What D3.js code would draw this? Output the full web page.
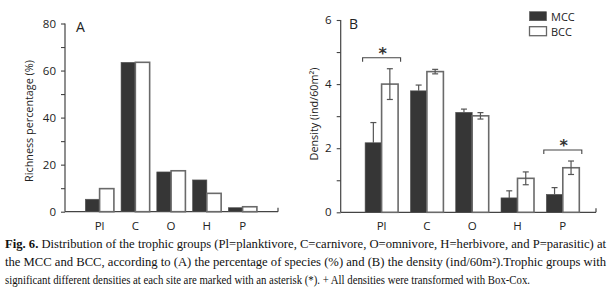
<!DOCTYPE html>
<html><head><meta charset="utf-8">
<script src="https://cdn.jsdelivr.net/npm/d3@7/dist/d3.min.js"></script>
<style>body{margin:0;background:#fff}svg{display:block}</style>
</head><body>
<svg id="c" width="614" height="289"></svg>
<script>
const categories = ["Pl","C","O","H","P"];
const seriesNames = ["MCC","BCC"];
const richnessMCC = [5.3, 63.5, 16.9, 13.5, 1.7];
const richnessBCC = [9.8, 63.5, 17.4, 7.8, 2.1];
const densityMCC = [2.17, 3.79, 3.12, 0.45, 0.56];
const densityBCC = [4.0, 4.39, 3.01, 1.06, 1.39];
const densityErrMCC = [0.63, 0.18, 0.1, 0.22, 0.21];
const densityErrBCC = [0.48, 0.07, 0.1, 0.2, 0.21];
const richTicks = [0,20,40,60,80];
const richMinor = [10,30,50,70];
const densTicks = [0,2,4,6];
const densMinor = [1,3,5];
const significant = ["Pl","P"];
const captionLines = [
 ["Fig. 6.", " Distribution of the trophic groups (Pl=planktivore, C=carnivore, O=omnivore, H=herbivore, and P=parasitic) at"],
 ["", "the MCC and BCC, according to (A) the percentage of species (%) and (B) the density (ind/60m\u00B2).Trophic groups with"],
 ["", "significant different densities at each site are marked with an asterisk (*). + All densities were transformed with Box-Cox."]
];

const svg = d3.select("#c");
const axisCol = "#444";
const darkFill = "#363636";
const font = "'Open Sans', sans-serif";

function panel(opts){
  const g = svg.append("g");
  const y = d3.scaleLinear().domain(opts.domain).range([opts.y0, opts.y1]);
  const x = d3.scalePoint().domain(categories).range(opts.xr);
  const inner = d3.scaleBand().domain(seriesNames).range([-opts.bw, opts.bw]);
  g.append("line").attr("x1",opts.ax).attr("x2",opts.ax).attr("y1",opts.y0).attr("y2",y(opts.domain[1]))
    .attr("stroke",axisCol).attr("stroke-width",1.2);
  g.append("line").attr("x1",opts.ax).attr("x2",opts.axEnd).attr("y1",opts.y0).attr("y2",opts.y0)
    .attr("stroke",axisCol).attr("stroke-width",1.2);
  g.append("line").attr("x1",opts.axEnd).attr("x2",opts.axEnd).attr("y1",opts.y0).attr("y2",opts.y0-4)
    .attr("stroke",axisCol).attr("stroke-width",1.2);
  const yAxis = d3.axisLeft(y).tickValues(opts.ticks.concat(opts.minor).sort((a,b)=>a-b))
    .tickSize(4).tickFormat(d => opts.ticks.includes(d) ? d : "");
  const ya = g.append("g").attr("transform",`translate(${opts.ax},0)`).call(yAxis);
  ya.select(".domain").remove();
  ya.selectAll("line").attr("stroke",axisCol).attr("stroke-width",1.1);
  ya.selectAll("text").attr("font-family",font).attr("font-size",11.5).attr("fill","#222").attr("x",-9);
  categories.forEach((c,i)=>{
    opts.values.forEach((vals,s)=>{
      const sn = seriesNames[s];
      g.append("rect").attr("x",x(c)+inner(sn)).attr("width",inner.bandwidth())
        .attr("y",y(vals[i])).attr("height",opts.y0 - y(vals[i]))
        .attr("fill", s===0 ? darkFill : "#fff")
        .attr("stroke", s===0 ? "#555" : "#6a6a6a").attr("stroke-width", s===0 ? 0.6 : 1.6);
    });
  });
  if (opts.errs){
    categories.forEach((c,i)=>{
      opts.values.forEach((vals,s)=>{
        const sn = seriesNames[s];
        const cx = x(c)+inner(sn)+inner.bandwidth()/2;
        const e = opts.errs[s][i];
        const top = y(vals[i]+e), bot = y(vals[i]-e);
        const eg = g.append("g").attr("stroke","#555").attr("stroke-width",1.2);
        if (s===0){
          // lower half hidden inside dark bar
          eg.append("line").attr("x1",cx).attr("x2",cx).attr("y1",top).attr("y2",y(vals[i]));
          eg.append("line").attr("x1",cx-3).attr("x2",cx+3).attr("y1",top).attr("y2",top);
        } else {
          eg.append("line").attr("x1",cx).attr("x2",cx).attr("y1",top).attr("y2",bot);
          eg.append("line").attr("x1",cx-3).attr("x2",cx+3).attr("y1",top).attr("y2",top);
          eg.append("line").attr("x1",cx-3).attr("x2",cx+3).attr("y1",bot).attr("y2",bot);
        }
      });
    });
  }
  categories.forEach(c=>{
    g.append("text").attr("x",x(c)).attr("y",opts.y0+18).attr("text-anchor","middle")
      .attr("font-family",font).attr("font-size",11.5).attr("fill","#222").text(c);
  });
  g.append("text").attr("x",opts.letterX).attr("y",opts.y1+3).attr("dominant-baseline","central")
    .attr("font-family",font).attr("font-size",14).attr("fill","#222").text(opts.letter);
  g.append("text").attr("transform",`translate(${opts.titleX},${opts.titleY}) rotate(-90)`)
    .attr("text-anchor","middle").attr("dominant-baseline","central")
    .attr("font-family",font).attr("font-size",10.8).attr("fill","#222").text(opts.title);
  return {g,x,y,inner};
}

panel({domain:[0,80], y0:211.7, y1:23.5, xr:[99.6,242.6], bw:14.3, ax:65, axEnd:278,
  ticks:richTicks, minor:richMinor, values:[richnessMCC, richnessBCC],
  letter:"A", letterX:76, titleX:28, titleY:121, title:"Richness percentage (%)"});

const pB = panel({domain:[0,6], y0:212.3, y1:20, xr:[381.6,562.8], bw:16.5, ax:340.7, axEnd:596,
  ticks:densTicks, minor:densMinor, values:[densityMCC, densityBCC], errs:[densityErrMCC, densityErrBCC],
  letter:"B", letterX:349, titleX:313, titleY:114, title:"Density (ind/60m\u00B2)"});

significant.forEach(c=>{
  const i = categories.indexOf(c);
  const topVal = Math.max(densityMCC[i]+densityErrMCC[i], densityBCC[i]+densityErrBCC[i]);
  const by = pB.y(topVal) - 11;
  const cx = pB.x(c);
  const x1 = cx - 19, x2 = cx + 19;
  pB.g.append("path").attr("d",`M${x1},${by+4}V${by}H${x2}V${by+4}`)
    .attr("fill","none").attr("stroke","#444").attr("stroke-width",1.1);
  pB.g.append("text").attr("x",cx+1).attr("y",by+1).attr("text-anchor","middle")
    .attr("font-family","'DejaVu Sans', sans-serif").attr("font-size",16).attr("font-weight","bold")
    .attr("fill","#333").text("*");
});

const leg = svg.append("g");
seriesNames.forEach((s,i)=>{
  const ly = 11.7 + i*15;
  leg.append("rect").attr("x",529.5).attr("y",ly).attr("width",17).attr("height",9)
    .attr("fill", i===0 ? darkFill : "#fff").attr("stroke", i===0 ? "#555" : "#666").attr("stroke-width", i===0?0.6:1.3);
  leg.append("text").attr("x",551).attr("y",ly+4.8).attr("dominant-baseline","central")
    .attr("font-family",font).attr("font-size",11).attr("fill","#222").text(s);
});

const capY = [244, 262, 280];
const capLen = [601, 601, 525];
captionLines.forEach((ln,i)=>{
  const t = svg.append("text").attr("x",5).attr("y",capY[i]+4)
    .attr("font-family","'Liberation Serif', serif").attr("font-size",12).attr("fill","#111")
    .attr("textLength",capLen[i]).attr("lengthAdjust","spacingAndGlyphs");
  if (ln[0]) t.append("tspan").attr("font-weight","bold").text(ln[0]);
  t.append("tspan").text(ln[1]);
});
</script>
</body></html>
